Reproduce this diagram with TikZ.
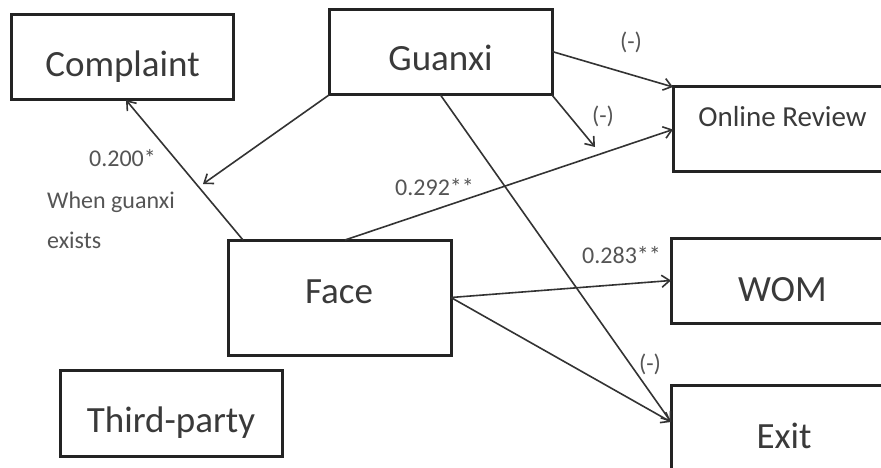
\documentclass[tikz,border=0pt]{standalone}
\usepackage{fontspec}
\setmainfont{Carlito}
\usetikzlibrary{arrows.meta,calc}
\definecolor{boxline}{HTML}{232323}
\definecolor{arrowline}{HTML}{333333}
\definecolor{boxtext}{HTML}{3A3A3A}
\definecolor{labeltext}{HTML}{555555}
\tikzset{
  box/.style={draw=boxline, line width=3pt, rectangle, inner sep=0pt, outer sep=0pt},
  boxlabel/.style={text=boxtext, font=\fontsize{37}{40}\selectfont, anchor=base, inner sep=0pt},
  smalllabel/.style={text=boxtext, font=\fontsize{29}{32}\selectfont, anchor=base, inner sep=0pt},
  coef/.style={text=labeltext, font=\fontsize{24}{27}\selectfont, inner sep=0pt},
  path arrow/.style={draw=arrowline, line width=1.6pt, -{Straight Barb[length=8pt,width=12pt,line width=1.6pt]}},
}
\begin{document}
\begin{tikzpicture}[x=1pt,y=-1pt]
\useasboundingbox (0,0) rectangle (881,468);
\clip (0,0) rectangle (881,468);
\fill[white] (0,0) rectangle (881,468);

% boxes
\node[box, minimum width=222pt, minimum height=85pt] (complaint) at (122,57.5) {};
\node[box, minimum width=223pt, minimum height=85pt] (guanxi) at (440.5,52.5) {};
\node[box, minimum width=240pt, minimum height=85pt] (review) at (793,129.5) {};
\node[box, minimum width=223pt, minimum height=115pt] (face) at (339.5,297.5) {};
\node[box, minimum width=222pt, minimum height=86pt] (third) at (171,413) {};
\node[box, minimum width=240pt, minimum height=85pt] (wom) at (791,280.5) {};
\node[box, minimum width=240pt, minimum height=110pt] (exit) at (791,440) {};

% box texts
\node[boxlabel] (tcomplaint) at (122.5,77) {Complaint};
\node[boxlabel] (tguanxi) at (440.5,71) {Guanxi};
\node[smalllabel] (treview) at (782.5,127) {Online Review};
\node[boxlabel] (tface) at (339,303) {Face};
\node[boxlabel] (tthird) at (171,432) {Third-party};
\node[boxlabel] (twom) at (782.5,301) {WOM};
\node[boxlabel] (texit) at (784,448) {Exit};

% moderation targets on the Face -> Complaint and Face -> Online Review paths
\coordinate (modc) at (203,184);
\coordinate (modr) at (595,147);

% connectors
\draw[path arrow] (guanxi.south west) -- (modc);
\draw[path arrow] ($(face.north west)+(15,0)$) -- ($(complaint.south west)+(115,0)$);
\draw[path arrow] ($(guanxi.east)+(0,-1)$) -- (review.north west);
\draw[path arrow] (guanxi.south east) -- (modr);
\draw[path arrow] ($(face.north west)+(117,0)$) -- (review.west);
\draw[path arrow] (guanxi.south) -- ($(exit.north west)+(0,37)$);
\draw[path arrow] (face.east) -- (wom.west);
\draw[path arrow] (face.east) -- ($(exit.north west)+(0,37)$);

% coefficients
\node[coef, anchor=base] (c200) at (122.5,167) {0.200*};
\node[coef, anchor=base west] (cwhen) at (47,208) {When guanxi};
\node[coef, anchor=base west] (cexists) at (47,248) {exists};
\node[coef, anchor=base west] (c292) at (395,196) {0.292**};
\node[coef, anchor=base west] (c283) at (582,263) {0.283**};
\node[coef] (neg1) at (631,42) {(-)};
\node[coef] (neg2) at (603,116) {(-)};
\node[coef] (neg3) at (650,364) {(-)};
\end{tikzpicture}
\end{document}
